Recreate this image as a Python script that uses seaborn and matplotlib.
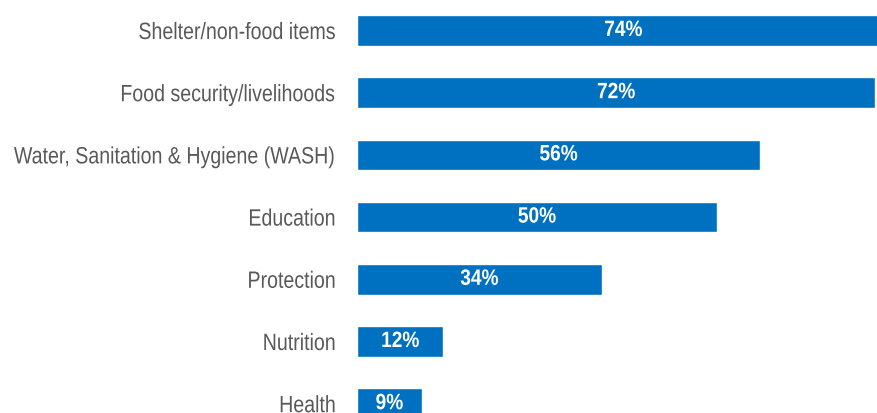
import matplotlib
matplotlib.use("Agg")
import matplotlib.pyplot as plt
import seaborn as sns
import pandas as pd
from matplotlib.patheffects import AbstractPathEffect
from matplotlib.transforms import Affine2D

# Share of respondents citing each sector
sectors = [
    "Shelter/non-food items",
    "Food security/livelihoods",
    "Water, Sanitation & Hygiene (WASH)",
    "Education",
    "Protection",
    "Nutrition",
    "Health",
]
shares = [74, 72, 56, 50, 34, 12, 9]
value_labels = ["74%", "72%", "56%", "50%", "34%", "12%", "9%"]

df = pd.DataFrame({"sector": sectors, "share": shares})


class HSqueeze(AbstractPathEffect):
    """Narrow text horizontally about its right edge or centre (a narrow face)."""

    def __init__(self, sx, anchor="right"):
        super().__init__()
        self.sx = sx
        self.anchor = anchor

    def draw_path(self, renderer, gc, tpath, affine, rgbFace=None):
        ext = tpath.get_extents(affine)
        if self.anchor == "right":
            x0 = ext.x1
        else:
            x0 = 0.5 * (ext.x0 + ext.x1)
        t = affine + Affine2D().translate(-x0, 0).scale(self.sx, 1).translate(x0, 0)
        renderer.draw_path(gc, tpath, t, rgbFace)


sns.set_theme(style="white")
plt.rcParams["font.family"] = ["Liberation Sans", "DejaVu Sans"]

W, H = 877, 413
fig = plt.figure(figsize=(W / 100, H / 100), dpi=100)
# axes runs past the canvas on the right and bottom
top_px, bottom_px = -0.6, 434.8
ax = fig.add_axes([357 / W, 1 - bottom_px / H, 540 / W, (bottom_px - top_px) / H])

sns.barplot(data=df, y="sector", x="share", orient="h", color="#0070C0",
            saturation=1, width=0.49, ax=ax)

texts = ax.bar_label(ax.containers[0], labels=value_labels, label_type="center",
                     color="white", fontweight="bold", fontsize=16)
for t in texts:
    t.set_path_effects([HSqueeze(0.86, anchor="center")])

ax.set_xlim(0, 75)
ax.set_ylim(6.5, -0.5)
ax.set_xlabel("")
ax.set_ylabel("")
ax.set_xticks([])
ax.tick_params(axis="y", length=0, pad=15, labelsize=17, labelcolor="#595959")
for lab in ax.get_yticklabels():
    lab.set_path_effects([HSqueeze(0.83, anchor="right")])
for s in ax.spines.values():
    s.set_visible(False)

fig.savefig("out.png", dpi=100)
